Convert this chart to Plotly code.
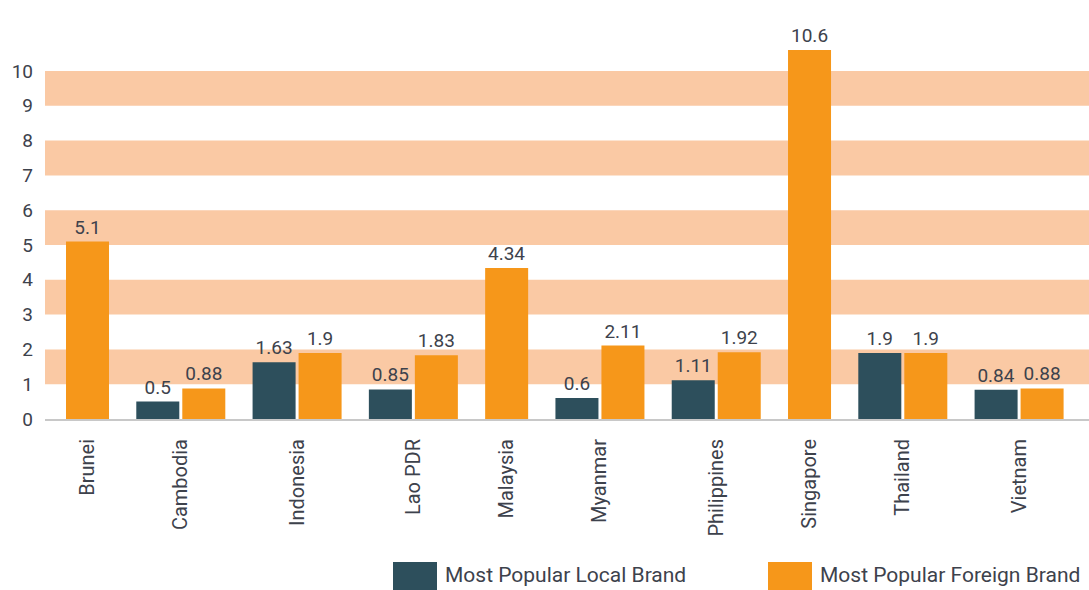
import plotly.graph_objects as go

countries = ["Brunei", "Cambodia", "Indonesia", "Lao PDR", "Malaysia",
             "Myanmar", "Philippines", "Singapore", "Thailand", "Vietnam"]
local_brand = [None, 0.5, 1.63, 0.85, None, 0.6, 1.11, None, 1.9, 0.84]
foreign_brand = [5.1, 0.88, 1.9, 1.83, 4.34, 2.11, 1.92, 10.6, 1.9, 0.88]
y_ticks = list(range(0, 11))
band_pairs = [(1, 2), (3, 4), (5, 6), (7, 8), (9, 10)]

LOCAL_C = "#2d4f5c"
FOREIGN_C = "#f6971a"
BAND_C = "#fac9a4"
TEXT_C = "#3d424c"
FONT = "Roboto, sans-serif"

# compact layout: countries with a single value take one slot only
BAR_W = 0.935
GROUP_STEP = 1.528
lx, ly, lt, fx, fy, ft, cx = [], [], [], [], [], [], []
cursor = 0.0
for i, c in enumerate(countries):
    pos = []
    if local_brand[i] is not None:
        pos.append(cursor)
        lx.append(cursor); ly.append(local_brand[i]); lt.append(f"{local_brand[i]:g}")
        cursor += 1
    pos.append(cursor)
    fx.append(cursor); fy.append(foreign_brand[i]); ft.append(f"{foreign_brand[i]:g}")
    cx.append(sum(pos) / len(pos))
    cursor += GROUP_STEP

fig = go.Figure()
fig.add_bar(x=lx, y=ly, width=BAR_W, marker_color=LOCAL_C, marker_line_width=0,
            text=lt, textposition="outside", constraintext="none", cliponaxis=False,
            textfont=dict(family=FONT, size=19, color=TEXT_C),
            name="Most Popular Local Brand", showlegend=False)
fig.add_bar(x=fx, y=fy, width=BAR_W, marker_color=FOREIGN_C, marker_line_width=0,
            text=ft, textposition="outside", constraintext="none", cliponaxis=False,
            textfont=dict(family=FONT, size=19, color=TEXT_C),
            name="Most Popular Foreign Brand", showlegend=False)

for a, b in band_pairs:
    fig.add_shape(type="rect", xref="paper", x0=0, x1=1, yref="y", y0=a, y1=b,
                  fillcolor=BAND_C, line_width=0, layer="below")

# legend drawn manually (large swatches)
legend_items = [("Most Popular Local Brand", LOCAL_C, 393),
                ("Most Popular Foreign Brand", FOREIGN_C, 768)]
W, H = 1089, 590
ml, mr, mt, mb = 45, 0, 10, 171
pw, ph = W - ml - mr, H - mt - mb
def px_x(p): return (p - ml) / pw
def px_y(p): return (H - mb - p) / ph
for label, col, x0 in legend_items:
    fig.add_shape(type="rect", xref="paper", yref="paper",
                  x0=px_x(x0), x1=px_x(x0 + 44), y0=px_y(590), y1=px_y(562),
                  fillcolor=col, line_width=0)
    fig.add_annotation(xref="paper", yref="paper", x=px_x(x0 + 50), y=px_y(575),
                       text=label, showarrow=False, xanchor="left", yanchor="middle",
                       font=dict(family=FONT, size=21, color=TEXT_C))

fig.update_layout(
    width=W, height=H, margin=dict(l=ml, r=mr, t=mt, b=mb, autoexpand=False),
    plot_bgcolor="white", paper_bgcolor="white", barmode="overlay",
    font=dict(family=FONT, color=TEXT_C),
    xaxis=dict(range=[-0.924, -0.924 + pw / 46.0], tickmode="array", tickvals=cx,
               ticktext=countries, tickangle=-90, showgrid=False, zeroline=False,
               showline=True, linecolor="#c8c8c8", linewidth=2, ticks="",
               automargin=False, ticklabelstandoff=10,
               tickfont=dict(family=FONT, size=20, color=TEXT_C)),
    yaxis=dict(range=[0, ph / 34.8], tickmode="array", tickvals=y_ticks,
               showgrid=False, zeroline=False, showline=False, ticks="",
               automargin=False, ticklabelstandoff=11,
               tickfont=dict(family=FONT, size=19, color=TEXT_C)),
)

fig.write_html("out.html", config={"displayModeBar": False},
               post_script="document.body.style.margin='0';document.body.style.overflow='hidden';")
